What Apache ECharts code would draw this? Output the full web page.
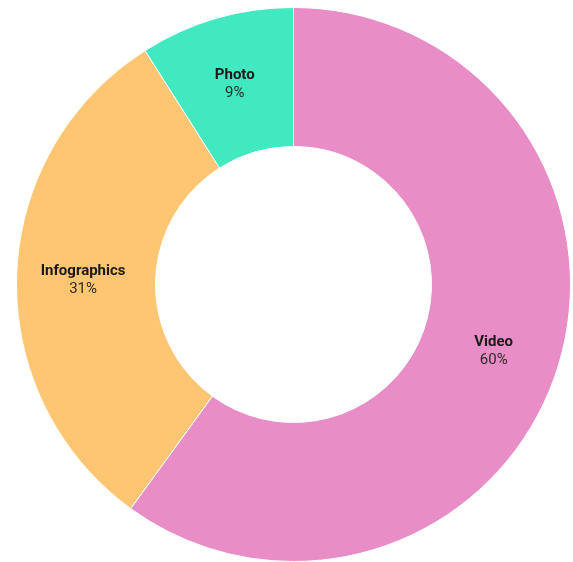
<!DOCTYPE html>
<html>
<head>
<meta charset="utf-8">
<script src="https://cdn.jsdelivr.net/npm/echarts@6/dist/echarts.min.js"></script>
<style>
  html, body { margin: 0; padding: 0; background: #fff; }
  #chart { width: 573px; height: 562px; }
</style>
</head>
<body>
<div id="chart"></div>
<script>
// Share of content types
const categories = ['Video', 'Infographics', 'Photo'];
const shares = [60, 31, 9];
const colors = ['#E98DC7', '#FEC673', '#41E8C0'];

const chart = echarts.init(document.getElementById('chart'), null, { renderer: 'canvas' });

chart.setOption({
  animation: false,
  series: [{
    type: 'pie',
    center: [293.5, 284.5],
    radius: [138, 277],
    startAngle: 90,
    clockwise: true,
    itemStyle: { borderColor: '#ffffff', borderWidth: 1 },
    label: {
      show: true,
      position: 'inside',
      offset: [0, 2],
      formatter: p => '{n|' + p.name + '}\n{v|' + p.value + '%}',
      rich: {
        n: { fontFamily: 'Roboto', fontWeight: 'bold', fontSize: 15, color: '#1a1a1a', lineHeight: 18 },
        v: { fontFamily: 'Roboto', fontSize: 15, color: '#2a2a2a', lineHeight: 18 }
      }
    },
    labelLine: { show: false },
    emphasis: { disabled: true },
    data: categories.map((c, i) => ({
      name: c,
      value: shares[i],
      itemStyle: { color: colors[i] }
    }))
  }]
});
</script>
</body>
</html>
